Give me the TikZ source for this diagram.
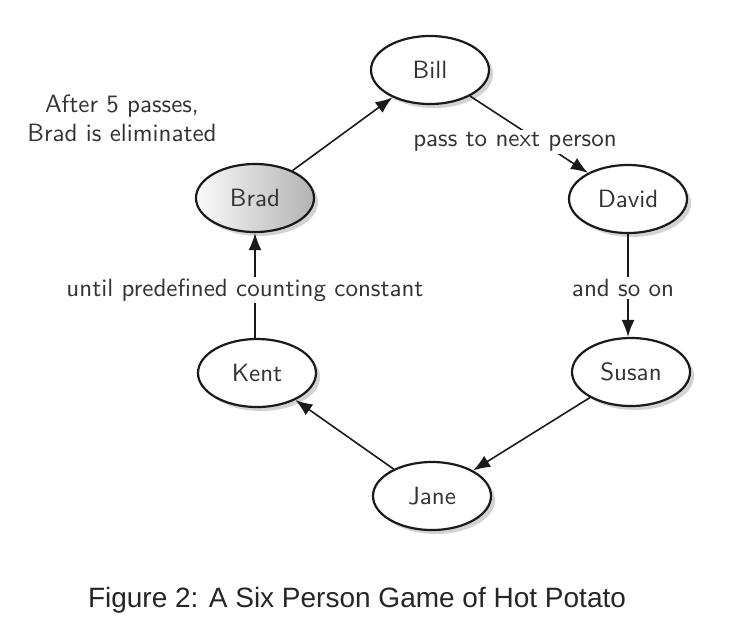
\documentclass[tikz,border=0pt]{standalone}
\usepackage{fontspec}
\newfontfamily\capfont{Liberation Sans}
\newfontfamily\lmsf{lmsans10-regular.otf}
\usetikzlibrary{shapes.geometric,arrows.meta,shadows}
\definecolor{txt}{HTML}{333333}
\definecolor{ln}{HTML}{1A1A1A}
\begin{document}
\begin{tikzpicture}[x=1pt,y=-1pt,
  person/.style={ellipse, draw=ln, line width=2.2pt, fill=white, inner sep=0pt,
    minimum width=118pt, minimum height=68pt, text=txt,
    font=\lmsf\fontsize{25}{29}\selectfont,
    drop shadow={shadow xshift=4pt, shadow yshift=-4pt, opacity=0.35}},
  lbl/.style={fill=white, inner sep=2pt, text=txt, font=\lmsf\fontsize{25}{29}\selectfont},
  conn/.style={draw=ln, line width=1.6pt, -{Latex[length=17pt,width=13pt]}}]
\useasboundingbox (0,0) rectangle (738,630);
\node[person] (bill) at (430,70) {Bill};
\node[person, left color=gray!4, right color=gray!60] (brad) at (255,198) {Brad};
\node[person] (david) at (628,199) {David};
\node[person] (susan) at (631,372) {Susan};
\node[person] (kent) at (257,373) {Kent};
\node[person] (jane) at (432,496) {Jane};

\draw[conn] (brad) -- (bill);
\draw[conn] (bill) -- (david);
\draw[conn] (david.south) -- (susan.north -| david.south);
\draw[conn] (susan) -- (jane);
\draw[conn] (jane) -- (kent);
\draw[conn] (kent.north -| brad.south) -- (brad.south);

\node[lbl] (l1) at (515,142) {pass to next person};
\node[lbl] (l2) at (623,288) {and so on};
\node[lbl] (l3) at (245,290) {until predefined counting constant};
\node[text=txt, align=center, font=\lmsf\fontsize{25}{29}\selectfont] (note) at (122,118) {After 5 passes,\\Brad is eliminated};
\node[text=black!85, font=\capfont\fontsize{28}{32}\selectfont] (cap) at (357,600) {Figure 2: A Six Person Game of Hot Potato};
\end{tikzpicture}
\end{document}
